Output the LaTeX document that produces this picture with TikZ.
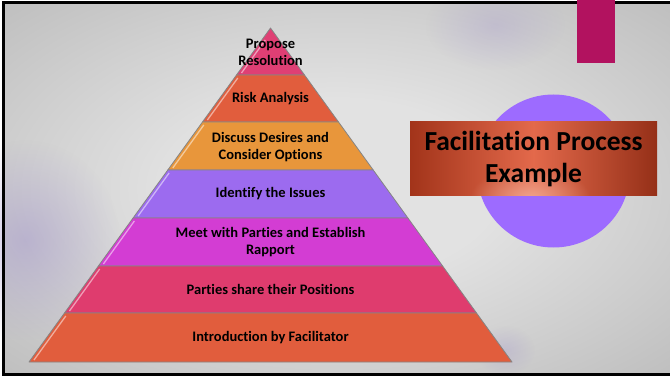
\documentclass[tikz,border=0pt]{standalone}
\usepackage{fontspec}
\setmainfont{Carlito}[Ligatures=NoCommon]
\usetikzlibrary{fadings}
\definecolor{bglight}{HTML}{E2E2E2}
\definecolor{bgdark}{HTML}{A6A6A6}
\definecolor{lavtint}{HTML}{A496CC}
\definecolor{tieredge}{HTML}{858585}
\definecolor{tierpink}{HTML}{DF3F74}
\definecolor{tierred}{HTML}{E15D3D}
\definecolor{tierorange}{HTML}{E8963B}
\definecolor{tierviolet}{HTML}{9C6BEF}
\definecolor{tiermagenta}{HTML}{D33DD3}
\definecolor{tierrose}{HTML}{DF3C6E}
\definecolor{barmagenta}{HTML}{B2125F}
\definecolor{discviolet}{HTML}{9D6BFF}
\definecolor{titledark}{HTML}{A2341A}
\definecolor{titlemid}{HTML}{E3694B}
\definecolor{titlelight}{HTML}{F2AE98}
\pgfdeclareradialshading{backglow}{\pgfpoint{0bp}{0bp}}{color(0bp)=(bglight); color(12bp)=(bglight); color(52bp)=(bgdark); color(75bp)=(bgdark)}
\tikzfading[name=glowfade, inner color=transparent!0, outer color=transparent!100]
\tikzset{
  tier/.style={draw=tieredge, line width=0.8pt, line join=round},
  gloss/.style={white, line width=1.3pt, opacity=0.5},
  tierlabel/.style={inner sep=0pt, align=center, text=black,
    font=\fontsize{14.5}{17}\selectfont\bfseries},
  titletext/.style={inner sep=0pt, align=center, text=black,
    font=\fontsize{27.5}{32}\selectfont\bfseries}
}
\begin{document}
\begin{tikzpicture}[x=1pt,y=1pt]
\useasboundingbox (0,0) rectangle (670,-377);
\shade[shading=backglow] (3.5,-2.5) rectangle (670,-374.5);
\fill[lavtint, opacity=0.5, path fading=glowfade] (25,-240) ellipse (95 and 100);
\fill[lavtint, opacity=0.3, path fading=glowfade] (495,-25) ellipse (70 and 45);
\fill[lavtint, opacity=0.3, path fading=glowfade] (505,-350) ellipse (30 and 25);
\draw[black, line width=3pt] (670,-2.5) -- (3.5,-2.5) -- (3.5,-374.5) -- (670,-374.5);
\fill[barmagenta] (577,0) rectangle (615,-63);
\fill[discviolet] (553.5,-171) circle (76.5);
\shade[left color=titledark, right color=titledark!92!black, middle color=titlemid] (410,-122) rectangle (657,-196);
\begin{scope}
\clip (410,-122) rectangle (657,-196);
\fill[titlelight, opacity=0.85, path fading=glowfade] (530,-198) ellipse (60 and 32);
\end{scope}
\node[titletext] (title) at (533.5,-159) {Facilitation Process\\Example};
\fill[tierpink, tier] (270.5,-28) -- (304.5,-75) -- (236.5,-75) -- cycle;
\draw[gloss] (265.3,-40) -- (241.5,-73);
\node[tierlabel] (propose) at (270.5,-52.5) {Propose\\Resolution};
\fill[tierred, tier] (236.5,-75) -- (304.5,-75) -- (338.5,-122) -- (202.5,-122) -- cycle;
\draw[gloss] (237.8,-78) -- (207.4,-120);
\node[tierlabel] (risk) at (270.5,-98.5) {Risk Analysis};
\fill[tierorange, tier] (202.5,-122) -- (338.5,-122) -- (373.2,-170) -- (167.8,-170) -- cycle;
\draw[gloss] (203.8,-125) -- (172.8,-168);
\node[tierlabel] (desires) at (270.5,-147) {Discuss Desires and\\Consider Options};
\fill[tierviolet, tier] (167.8,-170) -- (373.2,-170) -- (407.9,-218) -- (133.1,-218) -- cycle;
\draw[gloss] (169.1,-173) -- (138.1,-216);
\node[tierlabel] (issues) at (270.5,-194) {Identify the Issues};
\fill[tiermagenta, tier] (133.1,-218) -- (407.9,-218) -- (442.6,-266) -- (98.4,-266) -- cycle;
\draw[gloss] (134.4,-221) -- (103.4,-264);
\node[tierlabel] (meet) at (270.5,-242) {Meet with Parties and Establish\\Rapport};
\fill[tierrose, tier] (98.4,-266) -- (442.6,-266) -- (476.5,-313) -- (64.5,-313) -- cycle;
\draw[gloss] (99.7,-269) -- (69.5,-311);
\node[tierlabel] (positions) at (270.5,-289.5) {Parties share their Positions};
\fill[tierred, tier] (64.5,-313) -- (476.5,-313) -- (512,-362) -- (29,-362) -- cycle;
\draw[gloss] (65.8,-316) -- (34,-360);
\node[tierlabel] (intro) at (270.5,-337.5) {Introduction by Facilitator};
\end{tikzpicture}
\end{document}
